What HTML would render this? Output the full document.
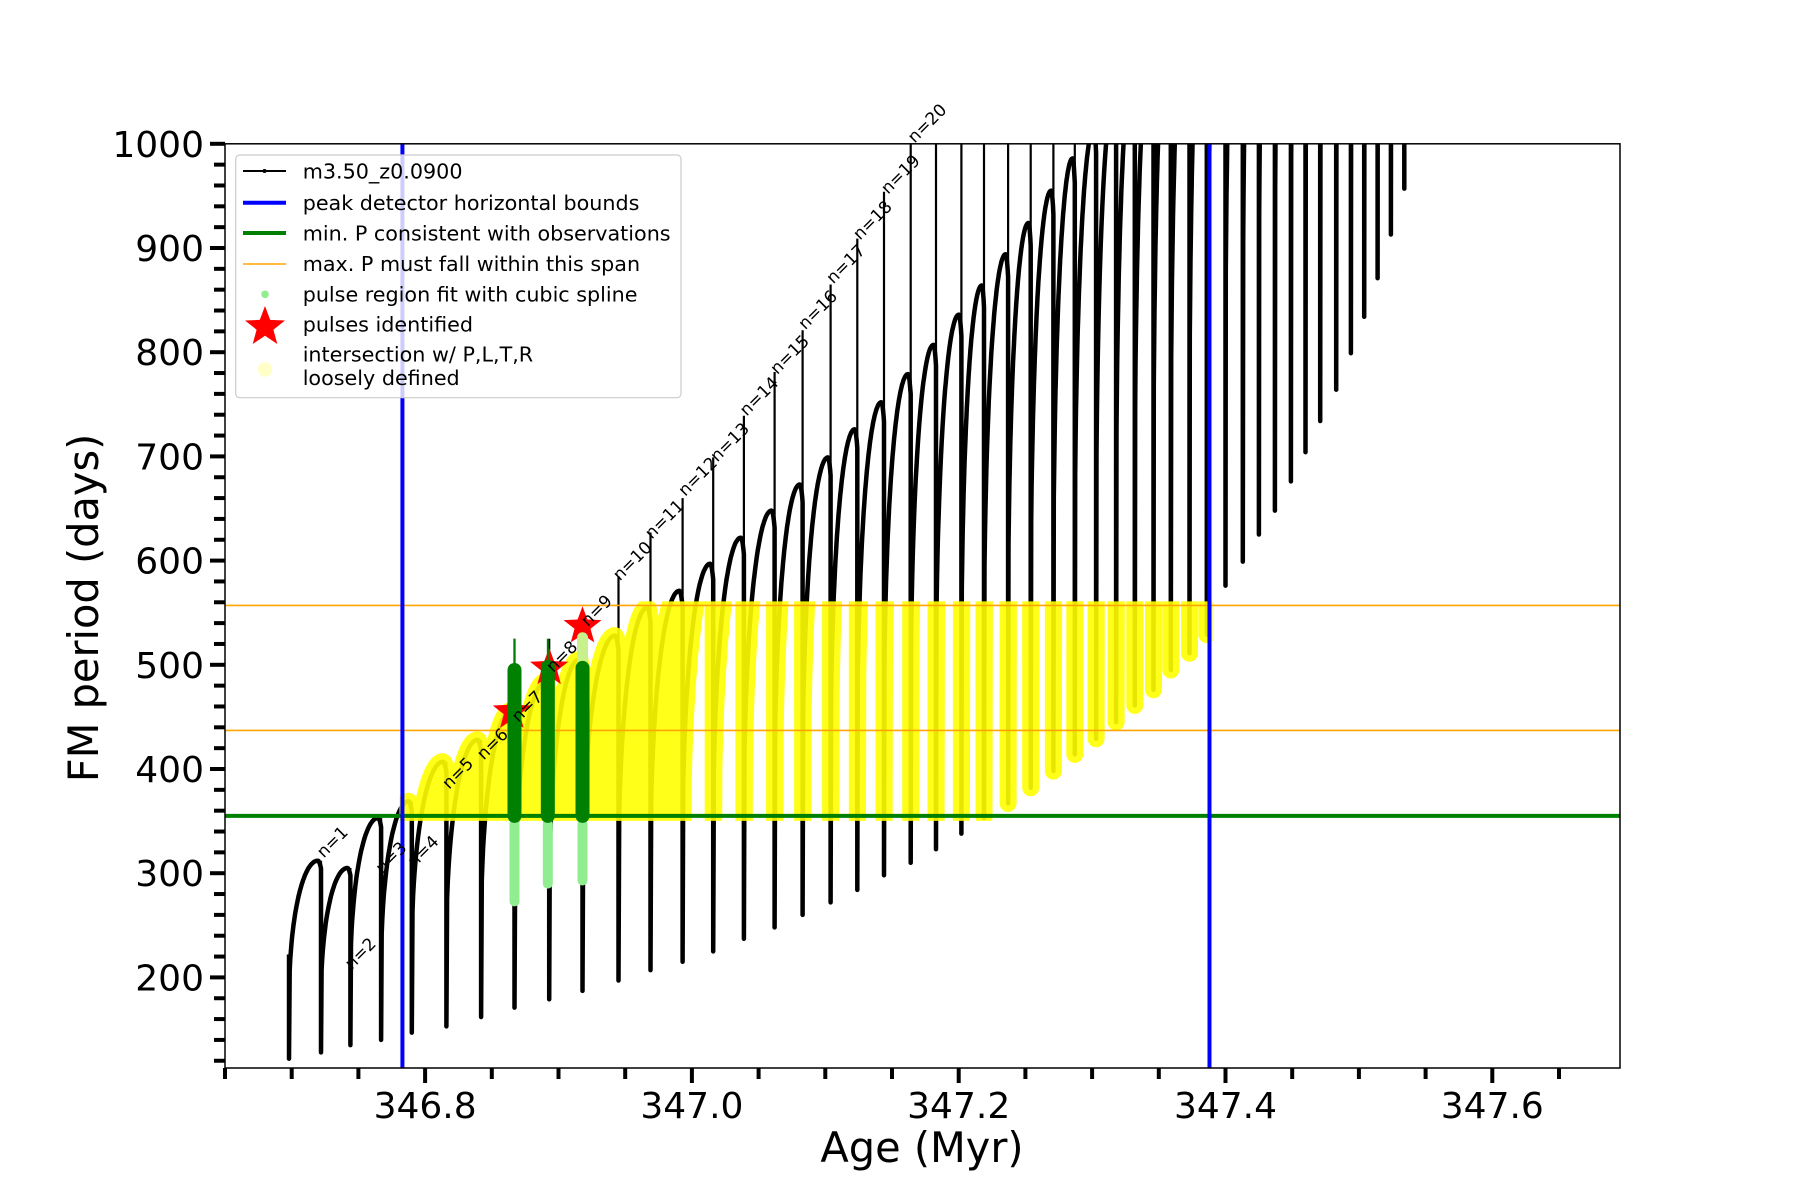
<!DOCTYPE html>
<html><head><meta charset="utf-8"><style>
html,body{margin:0;padding:0;background:#fff;}
svg{display:block;font-family:"DejaVu Sans","Liberation Sans",sans-serif;}
</style></head><body>
<svg id="chart" width="1800" height="1200" viewBox="0 0 1800 1200" xmlns="http://www.w3.org/2000/svg">
<defs>
<clipPath id="axclip"><rect x="225" y="143.8" width="1395" height="924.2"/></clipPath>
<clipPath id="yclip"><rect x="398" y="594" width="812" height="232"/></clipPath>
</defs>
<rect x="225" y="143.8" width="1395" height="924.2" fill="#fff"/>
<g id="plot" clip-path="url(#axclip)"></g>
<rect x="225" y="143.8" width="1395" height="924.2" fill="none" stroke="#000" stroke-width="1.5"/>
<g id="ticks"></g>
<text x="922" y="1162" font-size="41.5" text-anchor="middle">Age (Myr)</text>
<text transform="translate(98,608) rotate(-90)" font-size="41.5" text-anchor="middle">FM period (days)</text>
<g>
<rect x="235.7" y="155" width="445.3" height="242.7" rx="4" fill="#fff" fill-opacity="0.8" stroke="#ccc" stroke-width="1.2"/>
<g><line x1="243" y1="171" x2="286" y2="171" stroke="#000" stroke-width="2"/><circle cx="264.5" cy="171" r="2" fill="#000"/><text x="302.7" y="178.3" font-size="20.7">m3.50_z0.0900</text></g>
<g><line x1="243" y1="202.7" x2="286" y2="202.7" stroke="#0000ff" stroke-width="4"/><text x="302.7" y="210" font-size="20.7">peak detector horizontal bounds</text></g>
<g><line x1="243" y1="233" x2="286" y2="233" stroke="#008000" stroke-width="4"/><text x="302.7" y="240.5" font-size="20.7">min. P consistent with observations</text></g>
<g><line x1="243" y1="264" x2="286" y2="264" stroke="#ffa500" stroke-width="1.5"/><text x="302.7" y="271" font-size="20.7">max. P must fall within this span</text></g>
<g><circle cx="265" cy="294.3" r="3.8" fill="#90ee90"/><text x="302.7" y="301.7" font-size="20.7">pulse region fit with cubic spline</text></g>
<g><polygon id="legstar" fill="#ff0000"/><text x="302.7" y="331.7" font-size="20.7">pulses identified</text></g>
<g><circle cx="265" cy="369.5" r="7.3" fill="#ffff00" fill-opacity="0.22"/><text x="302.7" y="361.7" font-size="20.7">intersection w/ P,L,T,R</text><text x="302.7" y="385" font-size="20.7">loosely defined</text></g>
</g>
</svg>
<script>
// ---- data ----
const startAge = 346.698;
const startTop = 222;
const startMin = 122;
const pulseAges = [346.722,346.744,346.767,346.790,346.816,346.842,346.867,346.893,346.918,346.945,346.969,346.993,347.016,347.039,347.062,347.083,347.104,347.124,347.144,347.164,347.183,347.202,347.219,347.237,347.254,347.271,347.287,347.303,347.318,347.332,347.346,347.359,347.373,347.386,347.400,347.413,347.425,347.437,347.449,347.460,347.471,347.483,347.494,347.504,347.514,347.524,347.534];
const humpPeaks = [312,305,353,369,407,428,456,484,505,528,555,571,597,622,648,673,699,726,752,779,807,836,864,894,924,955,986,1015,1045,1075,1105,1135,1165,1195,1225,1255,1285,1315,1345,1375,1405,1435,1465,1495,1525,1555,1585];
const spikePeaks = [312,305,353,369,407,428,525,525,540,585,627,660,699,739,781,821,865,909,954,1030,1060,1090,1120,1150,1180,1210,1240,1270,1300,1330,1360,1390,1420,1450,1480,1510,1540,1570,1600,1630,1660,1690,1720,1750,1780,1810,1840];
const minsAfter = [128,135,140,147,153,162,171,179,187,197,207,215,225,237,248,260,272,284,298,310,323,338,353,367,382,398,414,429,445,461,476,495,511,529,576,599,625,648,676,704,734,764,799,834,871,913,957];
const endAge = 347.537;
const endVal = 1100;
const boundAges = [346.783, 347.388];
const minP = [355];
const maxPSpan = [437, 557];
const greenAges = [346.867, 346.892, 346.918];
const greenTop = [495, 498, 497];
const greenSpike = [525, 525, 0];
const lightBottom = [273, 290, 293];
const lightTop = [0, 0, 526];
const starAges = [346.865, 346.893, 346.918];
const starVals = [455, 497, 537];
const labelText = ["n=1","n=2","n=3","n=4","n=5","n=6","n=7","n=8","n=9","n=10","n=11","n=12","n=13","n=14","n=15","n=16","n=17","n=18","n=19","n=20"];
const labelAges = [346.724,346.745,346.768,346.792,346.818,346.844,346.870,346.896,346.922,346.946,346.970,346.995,347.019,347.041,347.064,347.085,347.106,347.126,347.147,347.167];
const labelVals = [314,207,299,305,380,408,444,492,536,580,620,661,694,738,778,821,865,907,951,1000];
const xTickVals = [346.8, 347.0, 347.2, 347.4, 347.6];
const xTickLabels = ["346.8","347.0","347.2","347.4","347.6"];
const yTickVals = [200,300,400,500,600,700,800,900,1000];
const yTickLabels = ["200","300","400","500","600","700","800","900","1000"];

// ---- axes ----
const X = a => 225 + (a - 346.65) * 1334;
const Y = v => 143.8 + (1000 - v) * 1.042;
const NS = "http://www.w3.org/2000/svg";
function mk(tag, attrs, parent){const e=document.createElementNS(NS,tag);for(const k in attrs)e.setAttribute(k,attrs[k]);parent.appendChild(e);return e;}
const plot = document.getElementById('plot');
const ticks = document.getElementById('ticks');

function humpPts(t0,m,t1,h){
  const pts=[[X(t0),Y(m)]];const N=50;
  for(let i=1;i<=N;i++){const u=i/N;let f;
    if(u<=0.9){const up=u/0.9;const q=1-up;f=0.3+0.7*Math.sqrt(1-q*q);}
    else{const w=(u-0.9)/0.1;f=1-0.04*w*w;}
    pts.push([X(t0+(t1-t0)*u),Y(m+(h-m)*f)]);}
  return pts;
}
let d = `M${X(startAge)},${Y(startTop)} L${X(startAge)},${Y(startMin)}`;
let prevT=startAge, prevM=startMin;
let spikes='';
let fills='';
for(let k=0;k<pulseAges.length;k++){
  const hp=humpPts(prevT,prevM,pulseAges[k],humpPeaks[k]);
  hp.forEach(p=>{d+=` L${p[0].toFixed(1)},${p[1].toFixed(1)}`;});
  if(humpPeaks[k] < maxPSpan[1]+23){
    fills+='M'+hp.map(p=>p[0].toFixed(1)+','+p[1].toFixed(1)).join(' L')+` L${X(pulseAges[k]).toFixed(1)},${Y(prevM).toFixed(1)} Z `;
  }
  const x=X(pulseAges[k]);
  d+=` L${x.toFixed(1)},${Y(minsAfter[k]).toFixed(1)}`;
  if(spikePeaks[k]>humpPeaks[k]*0.99) spikes+=`M${x.toFixed(1)},${Y(humpPeaks[k]*0.96).toFixed(1)} L${x.toFixed(1)},${Y(spikePeaks[k]).toFixed(1)} `;
  prevT=pulseAges[k];prevM=minsAfter[k];
}
humpPts(prevT,prevM,endAge,endVal).forEach(p=>{d+=` L${p[0].toFixed(1)},${p[1].toFixed(1)}`;});

const curve=mk('path',{d:d,fill:'none',stroke:'#000','stroke-width':4.5,'stroke-linejoin':'round'},plot);


const sp=mk('path',{d:spikes,fill:'none',stroke:'#000','stroke-width':2.2},plot);



// yellow intersection region
const yc=document.getElementById('yclip').firstChild;
yc.setAttribute('x',X(boundAges[0])-3);
yc.setAttribute('width',X(boundAges[1])-X(boundAges[0])+6);
yc.setAttribute('y',Y(maxPSpan[1])-4);
yc.setAttribute('height',Y(minP[0])-Y(maxPSpan[1])+9);
const yg=mk('g',{'clip-path':'url(#yclip)','opacity':0.9},plot);
const yf=mk('path',{d:fills,fill:'#ffff00',stroke:'none'},yg);


const yl=mk('path',{d:d,fill:'none',stroke:'#ffff00','stroke-width':17,'stroke-linecap':'round','stroke-linejoin':'round'},yg);



// reference lines
maxPSpan.forEach((v,i)=>{const l=mk('line',{x1:225,x2:1620,y1:Y(v),y2:Y(v),stroke:'#ffa500','stroke-width':1.6},plot);

});
const gl=mk('line',{x1:225,x2:1620,y1:Y(minP[0]),y2:Y(minP[0]),stroke:'#008000','stroke-width':4},plot);


boundAges.forEach((a,i)=>{const l=mk('line',{x1:X(a),x2:X(a),y1:143.8,y2:1068,stroke:'#0000ff','stroke-width':4},plot);

});

// stars
function starPts(cx,cy,R){const r=R*0.42;let s='';for(let i=0;i<10;i++){const ang=-Math.PI/2+i*Math.PI/5;const rr=i%2?r:R;s+=(cx+rr*Math.cos(ang)).toFixed(1)+','+(cy+rr*Math.sin(ang)).toFixed(1)+' ';}return s;}
starAges.forEach((a,i)=>{const s=mk('polygon',{points:starPts(X(a),Y(starVals[i]),20),fill:'#ff0000'},plot);

});
document.getElementById('legstar').setAttribute('points',starPts(265,327,21));

// green pulse regions
greenAges.forEach((a,i)=>{const x=X(a);
  const lg=mk('line',{x1:x,x2:x,y1:Y(minP[0])+8,y2:Y(lightBottom[i]),stroke:'#90ee90','stroke-width':10,'stroke-linecap':'round'},plot);
  
  
  if(lightTop[i]>0){const lt=mk('line',{x1:x,x2:x,y1:Y(greenTop[i]),y2:Y(lightTop[i]),stroke:'#c8f08c','stroke-width':11,'stroke-linecap':'round'},plot);
  
  }
  if(greenSpike[i]>0){const gs=mk('line',{x1:x,x2:x,y1:Y(greenTop[i]),y2:Y(greenSpike[i]),stroke:'#008000','stroke-width':2},plot);
  
  }
  const g=mk('line',{x1:x,x2:x,y1:Y(minP[0]),y2:Y(greenTop[i]),stroke:'#008000','stroke-width':14,'stroke-linecap':'round'},plot);
  
  
});

// n labels
labelText.forEach((t,i)=>{const e=mk('text',{transform:`translate(${X(labelAges[i])},${Y(labelVals[i])}) rotate(-45)`,'font-size':17,fill:'#000'},document.getElementById('chart'));
e.textContent=t;

});

// ticks
for(let i=0;i<=20;i++){const a=346.65+i*0.05;if(a>347.701)break;const x=X(a);
  const major=xTickVals.some(v=>Math.abs(v-a)<1e-6);
  const tk=mk('line',{x1:x,x2:x,y1:1068,y2:1068+(major?15:11),stroke:'#000','stroke-width':4},ticks);
  
  }
xTickVals.forEach((v,i)=>{const e=mk('text',{x:X(v),y:1118,'font-size':36,'text-anchor':'middle'},ticks);e.textContent=xTickLabels[i];

});
for(let v=120;v<=1000;v+=20){const y=Y(v);const major=v%100===0;
  const tk=mk('line',{x1:225,x2:225-(major?15:11),y1:y,y2:y,stroke:'#000','stroke-width':4},ticks);
  
  }
yTickVals.forEach((v,i)=>{const e=mk('text',{x:204,y:Y(v)+13,'font-size':36,'text-anchor':'end'},ticks);e.textContent=yTickLabels[i];

});
</script>
</body></html>
